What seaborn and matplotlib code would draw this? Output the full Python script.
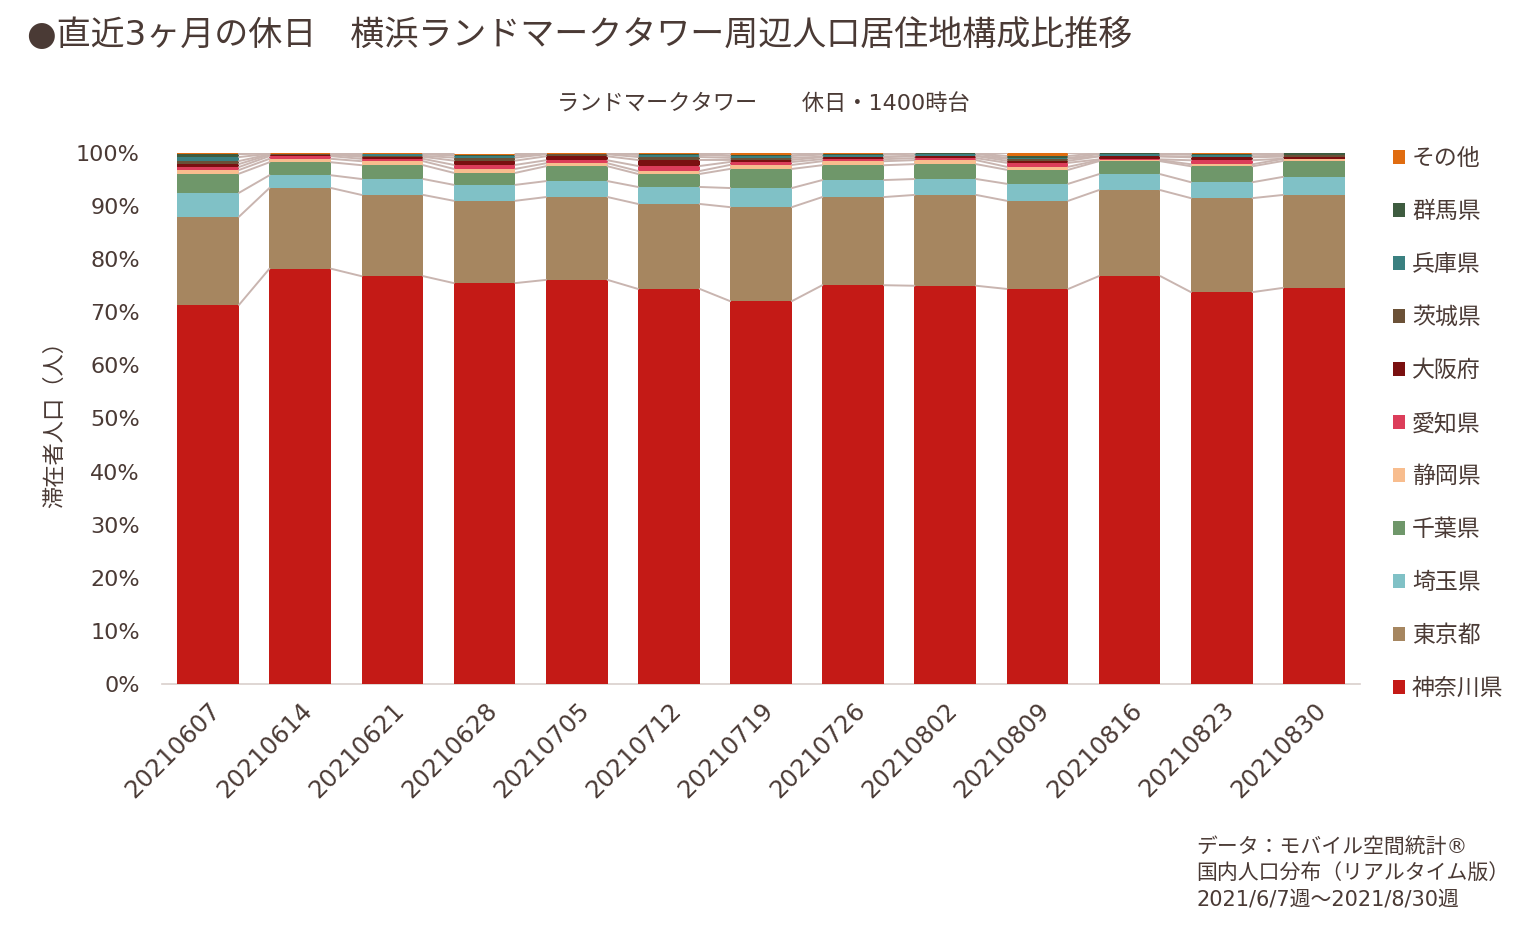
import numpy as np
import pandas as pd
import matplotlib
matplotlib.use("Agg")
import matplotlib.pyplot as plt
from matplotlib.patches import Patch
from matplotlib.ticker import PercentFormatter
import seaborn as sns

# weeks (x categories)
weeks = ["20210607", "20210614", "20210621", "20210628", "20210705", "20210712", "20210719",
         "20210726", "20210802", "20210809", "20210816", "20210823", "20210830"]

# share of visitors by home prefecture (%), bottom -> top
kanagawa = [71.4, 78.2, 76.8, 75.5, 76.1, 74.4, 72.1, 75.1, 75.0, 74.4, 76.8, 73.8, 74.6]
tokyo    = [16.6, 15.2, 15.3, 15.5, 15.6, 16.0, 17.7, 16.6, 17.1, 16.6, 16.2, 17.7, 17.5]
saitama  = [4.5, 2.4, 3.0, 3.0, 3.0, 3.2, 3.6, 3.2, 3.0, 3.2, 3.0, 3.0, 3.4]
chiba    = [3.6, 2.45, 2.6, 2.26, 2.8, 2.45, 3.6, 2.8, 2.8, 2.64, 2.45, 3.0, 3.0]
shizuoka = [0.7, 0.65, 0.75, 0.75, 0.56, 0.56, 0.75, 0.75, 0.75, 0.56, 0.19, 0.38, 0.38]
aichi    = [0.56, 0.5, 0.44, 0.75, 0.56, 0.94, 0.56, 0.38, 0.38, 0.75, 0.15, 0.75, 0.05]
osaka    = [0.56, 0.25, 0.38, 0.8, 0.75, 1.13, 0.38, 0.38, 0.38, 0.38, 0.56, 0.56, 0.38]
ibaraki  = [0.56, 0.1, 0.2, 0.56, 0.38, 0.56, 0.38, 0.1, 0.07, 0.38, 0.05, 0.1, 0.26]
hyogo    = [0.75, 0.1, 0.3, 0.38, 0.1, 0.38, 0.38, 0.38, 0.38, 0.15, 0.38, 0.38, 0.05]
gunma    = [0.56, 0.05, 0.1, 0.1, 0.05, 0.2, 0.1, 0.19, 0.07, 0.38, 0.19, 0.1, 0.3]
other    = [0.19, 0.2, 0.1, 0.3, 0.1, 0.19, 0.38, 0.1, 0.07, 0.56, 0.05, 0.19, 0.19]

prefs = ["神奈川県", "東京都", "埼玉県", "千葉県", "静岡県", "愛知県", "大阪府", "茨城県", "兵庫県", "群馬県", "その他"]
series = [kanagawa, tokyo, saitama, chiba, shizuoka, aichi, osaka, ibaraki, hyogo, gunma, other]
colors = ["#c41a16", "#a68660", "#80c1c6", "#6f976a", "#f8bd8e", "#dc3d5a",
          "#7a1010", "#6b5137", "#3a8080", "#3e5c40", "#e06c10"]

txt = "#4a3a35"
sns.set_style("white")
# DejaVu first for latin/digits (close to the original's Verdana-style digits), CJK fallback
plt.rcParams["font.family"] = ["DejaVu Sans", "Noto Sans CJK JP"]
plt.rcParams["text.color"] = txt
plt.rcParams["axes.labelcolor"] = txt
plt.rcParams["xtick.color"] = txt
plt.rcParams["ytick.color"] = txt

fig = plt.figure(figsize=(15.26, 9.3), dpi=100)
ax = fig.add_axes([0.1062, 0.2645, 0.785, 0.571])

w = 0.67
bottom = np.zeros(len(weeks))
tops = []
for name, vals, c in zip(prefs, series, colors):
    v = np.array(vals) / 100
    df = pd.DataFrame({"week": weeks, "share": v})
    sns.barplot(data=df, x="week", y="share", color=c, width=w, bottom=bottom,
                ax=ax, errorbar=None, saturation=1, linewidth=0)
    bottom = bottom + v
    tops.append(bottom.copy())

# series lines between bars
for t in tops:
    for i in range(len(weeks) - 1):
        ax.plot([i + w / 2, i + 1 - w / 2], [t[i], t[i + 1]], color="#c9b5b0",
                lw=1.4, zorder=1)

ax.set_xlim(-0.5, len(weeks) - 0.5)
ax.set_ylim(0, 1.0)
ax.yaxis.set_major_locator(plt.MultipleLocator(0.1))
ax.yaxis.set_major_formatter(PercentFormatter(1.0, decimals=0))
ax.tick_params(axis="y", labelsize=16, length=0, pad=16)
ax.tick_params(axis="x", labelsize=17.5, length=0, pad=10)
plt.setp(ax.get_xticklabels(), rotation=45, ha="right", rotation_mode="anchor")
ax.set_xlabel("")
ax.set_ylabel("滞在者人口（人）", fontsize=16, labelpad=8)
for s in ["top", "right", "left"]:
    ax.spines[s].set_visible(False)
ax.spines["bottom"].set_color("#d9cfcc")
ax.spines["bottom"].set_linewidth(1.2)
ax.spines["bottom"].set_zorder(0)

handles = [Patch(facecolor=c, edgecolor="none") for c in colors[::-1]]
leg = ax.legend(handles, prefs[::-1], loc="upper left", bbox_to_anchor=(1.01, 1.05),
                frameon=False, fontsize=16.5, handlelength=0.55, handleheight=0.55,
                handletextpad=0.3, labelspacing=1.31)

fig.text(0.018, 0.962, "●直近3ヶ月の休日　横浜ランドマークタワー周辺人口居住地構成比推移",
         fontsize=24.5, va="center", ha="left")
fig.text(0.5, 0.889, "ランドマークタワー　　休日・1400時台", fontsize=16, va="center", ha="center")
fig.text(0.784, 0.061, "データ：モバイル空間統計®\n国内人口分布（リアルタイム版）\n2021/6/7週～2021/8/30週",
         fontsize=15, va="center", ha="left", linespacing=1.4)

fig.savefig("out.png", dpi=100)
